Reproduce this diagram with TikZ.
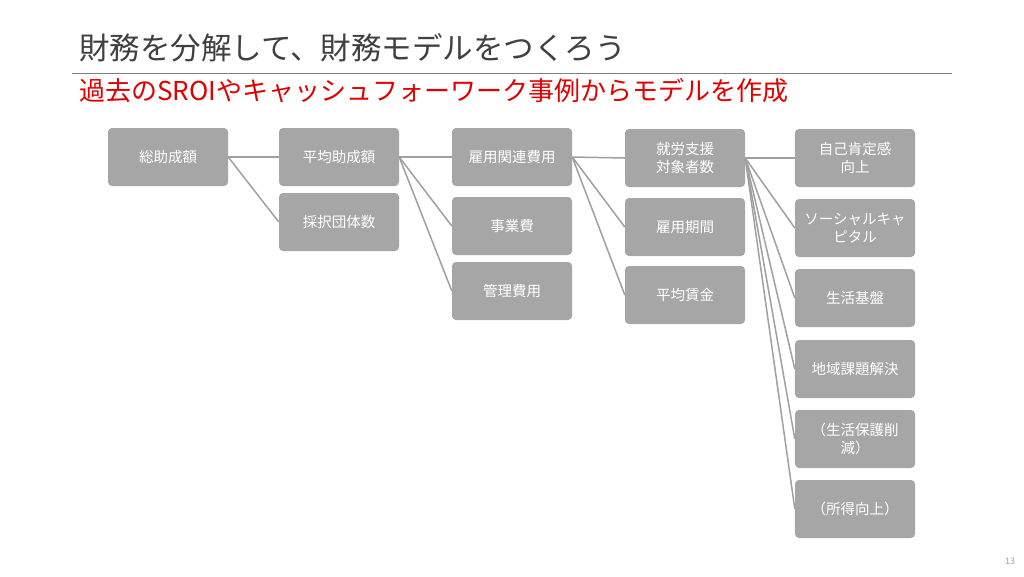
\documentclass[tikz,border=0pt]{standalone}
\usepackage{fontspec}
\newfontfamily\cjk{Noto Sans CJK JP}
\usetikzlibrary{positioning}
\definecolor{boxgray}{RGB}{166,166,166}
\definecolor{linegray}{RGB}{160,160,160}
\definecolor{titlegray}{RGB}{64,64,64}
\definecolor{subred}{RGB}{224,0,0}
\tikzset{
  item/.style={fill=boxgray,text=white,rounded corners=4pt,minimum width=120pt,
    minimum height=58pt,align=center,font=\cjk\fontsize{14.5}{18}\selectfont,inner sep=2pt},
  link/.style={draw=linegray,line width=1.5pt},
}
\begin{document}
\begin{tikzpicture}[x=1pt,y=-1pt]
  \useasboundingbox[fill=white] (0,0) rectangle (1024,576);
  % heading
  \node[anchor=west,text=titlegray,font=\cjk\fontsize{30.5}{34}\selectfont,inner sep=0] (title) at (79,48) {財務を分解して、財務モデルをつくろう};
  \draw[linegray!80!black,line width=1pt] (72,73) -- (952,73);
  \node[anchor=west,text=subred,font=\cjk\fontsize{26}{30}\selectfont,inner sep=0] (sub) at (79,91) {過去のSROIやキャッシュフォーワーク事例からモデルを作成};
  \node[text=linegray,font=\cjk\fontsize{9}{11}\selectfont] (page) at (1010,561) {13};
  % tree
  \node[item] (total) at (168,157) {総助成額};
  \node[item] (avg) at (339,157) {平均助成額};
  \node[item] (count) at (339,222) {採択団体数};
  \node[item] (empcost) at (512,157) {雇用関連費用};
  \node[item] (bizcost) at (512,226) {事業費};
  \node[item] (mgmt) at (512,291) {管理費用};
  \node[item] (target) at (685,158) {就労支援\\対象者数};
  \node[item] (period) at (685,227) {雇用期間};
  \node[item] (wage) at (685,295) {平均賃金};
  \foreach \n/\y/\t in {esteem/158/自己肯定感\\向上,social/228/ソーシャルキャ\\ピタル,base/298/生活基盤,local/369/地域課題解決,welfare/439/（生活保護削\\減）,income/509/（所得向上）}{
    \node[item] (\n) at (855,\y) {\t};
  }
  \foreach \a/\b in {total/avg,total/count,avg/empcost,avg/bizcost,avg/mgmt,empcost/target,empcost/period,empcost/wage}
    \draw[link] (\a.east) -- (\b.west);
  \foreach \b in {esteem,social,base,local,welfare,income}
    \draw[link] (target.east) -- (\b.west);
\end{tikzpicture}
\end{document}
